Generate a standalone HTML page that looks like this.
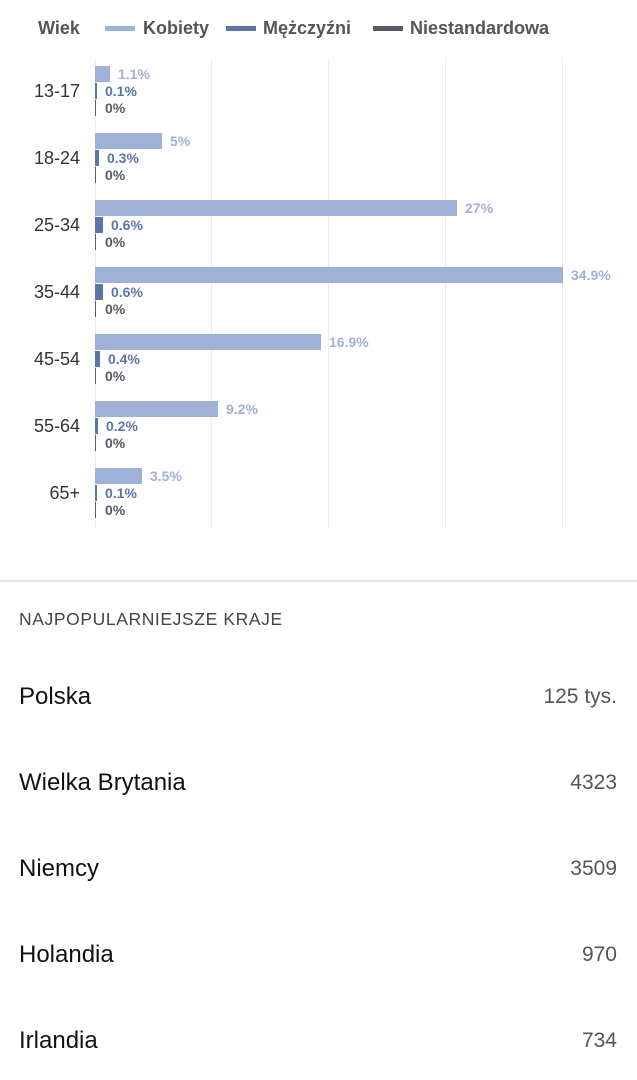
<!DOCTYPE html>
<html><head><meta charset="utf-8"><style>
body{margin:0;width:637px;height:1080px;background:#fff;font-family:"Liberation Sans",sans-serif;position:relative;overflow:hidden}
.a{position:absolute;white-space:nowrap}
.leg{top:18px;font-size:18px;color:#555;font-weight:bold}
.sw{position:absolute;top:26px;width:30px;height:5px}
.grid{position:absolute;top:58px;height:470px;width:1px;background:#ececec}
.age{position:absolute;right:557px;font-size:18px;color:#333;text-align:right}
.bar{position:absolute;left:95px}
.v{position:absolute;font-size:14px;font-weight:bold}
.row{position:absolute;left:19px;font-size:24px;color:#111}
.num{position:absolute;right:20px;font-size:21px;color:#555}
</style></head><body>
<div class="a leg" style="left:38px">Wiek</div>
<div class="sw" style="left:105px;background:#9fb1d6"></div><div class="a leg" style="left:143px">Kobiety</div>
<div class="sw" style="left:226px;background:#5a75a8"></div><div class="a leg" style="left:263px">Mężczyźni</div>
<div class="sw" style="left:373px;background:#555c66"></div><div class="a leg" style="left:410px">Niestandardowa</div>
<div class="grid" style="left:95px"></div><div class="grid" style="left:211px"></div><div class="grid" style="left:328px"></div><div class="grid" style="left:445px"></div><div class="grid" style="left:562px"></div>
<div id="c"></div>
<div style="position:absolute;left:0;top:580px;width:637px;height:2px;background:#e6e6e6"></div>
<div class="a" style="left:19px;top:609px;font-size:17.5px;color:#444;letter-spacing:0.6px">NAJPOPULARNIEJSZE KRAJE</div>
<div class="row" style="top:683px">Polska</div><div class="num" style="top:685px">125 tys.</div>
<div class="row" style="top:769px">Wielka Brytania</div><div class="num" style="top:771px">4323</div>
<div class="row" style="top:855px">Niemcy</div><div class="num" style="top:857px">3509</div>
<div class="row" style="top:941px">Holandia</div><div class="num" style="top:943px">970</div>
<div class="row" style="top:1027px">Irlandia</div><div class="num" style="top:1029px">734</div>
<script>
var d=[["13-17",1.1,"1.1%",0.1,"0.1%"],["18-24",5,"5%",0.3,"0.3%"],["25-34",27,"27%",0.6,"0.6%"],["35-44",34.9,"34.9%",0.6,"0.6%"],["45-54",16.9,"16.9%",0.4,"0.4%"],["55-64",9.2,"9.2%",0.2,"0.2%"],["65+",3.5,"3.5%",0.1,"0.1%"]];
var h="";
d.forEach(function(r,i){var y=66+i*67;var w=Math.round(r[1]*13.4);var m=Math.max(2,Math.round(r[3]*13.4));
h+='<div class="age" style="top:'+(y+15)+'px">'+r[0]+'</div>';
h+='<div class="bar" style="top:'+y+'px;width:'+w+'px;height:16px;background:#9fb1d6"></div>';
h+='<div class="v" style="left:'+(95+w+8)+'px;top:'+y+'px;color:#9fb1d6;font-weight:600">'+r[2]+'</div>';
h+='<div class="bar" style="top:'+(y+17)+'px;width:'+m+'px;height:16px;background:#5a75a8"></div>';
h+='<div class="v" style="left:'+(95+m+8)+'px;top:'+(y+17)+'px;color:#5a75a8">'+r[4]+'</div>';
h+='<div class="bar" style="top:'+(y+34)+'px;width:1px;height:16px;background:#555c66"></div>';
h+='<div class="v" style="left:105px;top:'+(y+34)+'px;color:#555c66">0%</div>';});
document.getElementById("c").innerHTML=h;
</script>
</body></html>
